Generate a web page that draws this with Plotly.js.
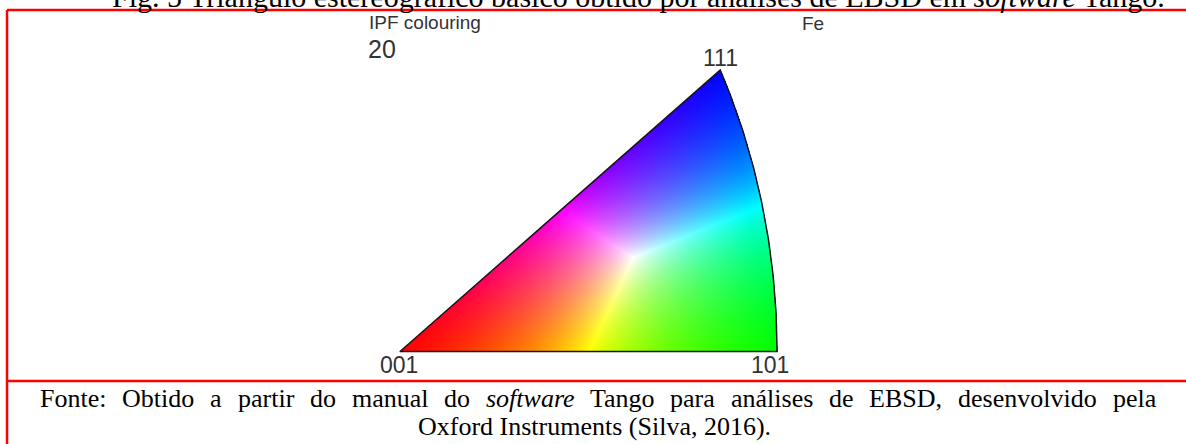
<!DOCTYPE html>
<html><head><meta charset="utf-8">
<script src="https://cdn.plot.ly/plotly-3.0.1.min.js"></script>
<style>html,body{margin:0;padding:0;background:#fff;overflow:hidden}</style>
</head><body><div id="chart" style="width:1186px;height:444px"></div>
<script>
// ---- data ----
const poleLabels = ['001', '101', '111'];
const poleDirections = [[0, 0, 1], [1, 0, 1], [1, 1, 1]];
const poleColours = [[255, 0, 0], [0, 255, 0], [0, 0, 255]];
const headerLabels = ['IPF colouring', '20', 'Fe'];
const captionTop = 'Fig. 5 Triângulo estereográfico básico obtido por análises de EBSD em <i>software</i> Tango.';
const sourceLines = ['Fonte: Obtido a partir do manual do <i>software</i> Tango para análises de EBSD, desenvolvido pela',
                     'Oxford Instruments (Silva, 2016).'];

// ---- geometry helpers (equal-area projection) ----
function project(d) {
  const n = Math.hypot(d[0], d[1], d[2]);
  const x = d[0] / n, y = d[1] / n, z = d[2] / n;
  const th = Math.acos(Math.min(1, z)), r = 2 * Math.sin(th / 2), ph = Math.atan2(y, x);
  return [r * Math.cos(ph), r * Math.sin(ph)];
}
function unproject(X, Y) {
  const r = Math.hypot(X, Y), th = 2 * Math.asin(Math.min(1, r / 2)), ph = Math.atan2(Y, X);
  return [Math.sin(th) * Math.cos(ph), Math.sin(th) * Math.sin(ph), Math.cos(th)];
}
const P = poleDirections.map(project);

// boundary of the standard triangle (great circles between poles)
const bx = [], by = [];
const N = 80;
function addArc(a, b) {
  for (let i = 0; i <= N; i++) {
    const t = i / N;
    const d = [a[0] + (b[0] - a[0]) * t, a[1] + (b[1] - a[1]) * t, a[2] + (b[2] - a[2]) * t];
    const p = project(d); bx.push(p[0]); by.push(p[1]);
  }
}
addArc(poleDirections[0], poleDirections[1]);
addArc(poleDirections[1], poleDirections[2]);
addArc(poleDirections[2], poleDirections[0]);

// ---- page layout (pixels) ----
const W = 1186, H = 444;
const ox = 400, oy = 351.5, sx = 492.6, sy = 433;
const xRange = [-ox / sx, (W - ox) / sx];
const yRange = [-(H - oy) / sy, oy / sy];
const dx = 1 / sx, dy = 1 / sy;

// ---- IPF colour key image ----
const xmax = Math.max(...bx), ymax = Math.max(...by);
const nx = Math.ceil(xmax / dx) + 2, ny = Math.ceil(ymax / dy) + 2;
const A = P[0], B = P[1], C = P[2];
const det = (B[0] - A[0]) * (C[1] - A[1]) - (C[0] - A[0]) * (B[1] - A[1]);
const z = [];
for (let j = 0; j < ny; j++) {
  const row = [];
  const Y = j * dy;
  for (let i = 0; i < nx; i++) {
    const X = i * dx;
    const d = unproject(X, Y);
    const e = 1e-9;
    const inside = d[1] >= -e && d[0] >= d[1] - e && d[2] >= d[0] - e;
    if (!inside) { row.push([255, 255, 255, 0]); continue; }
    let wb = ((X - A[0]) * (C[1] - A[1]) - (C[0] - A[0]) * (Y - A[1])) / det;
    let wc = ((B[0] - A[0]) * (Y - A[1]) - (X - A[0]) * (B[1] - A[1])) / det;
    let wa = 1 - wb - wc;
    const w = [Math.max(0, wa), Math.max(0, wb), Math.max(0, wc)];
    const c = [0, 1, 2].map(k => w[0] * poleColours[0][k] + w[1] * poleColours[1][k] + w[2] * poleColours[2][k]);
    const m = Math.max(...c) || 1;
    row.push([Math.round(c[0] * 255 / m), Math.round(c[1] * 255 / m), Math.round(c[2] * 255 / m), 1]);
  }
  z.push(row);
}

const traces = [
  { type: 'image', z: z, x0: 0, y0: 0, dx: dx, dy: dy, colormodel: 'rgba', hoverinfo: 'skip' },
  { type: 'scatter', mode: 'lines', x: bx, y: by, line: { color: '#151515', width: 1.5 }, hoverinfo: 'skip' }
];

// ---- annotations ----
const px = v => v / W, py = v => 1 - v / H;
const labelFont = { family: 'Liberation Sans, Arial, sans-serif', color: '#333333' };
const serifFamily = 'Liberation Serif, Times New Roman, serif';
const serif = { family: serifFamily, color: '#000', size: 26 };
const annotations = [
  { text: headerLabels[0], xref: 'paper', yref: 'paper', x: px(367), y: py(22), xanchor: 'left', yanchor: 'middle', showarrow: false, font: Object.assign({ size: 19 }, labelFont) },
  { text: headerLabels[1], xref: 'paper', yref: 'paper', x: px(366), y: py(49), xanchor: 'left', yanchor: 'middle', showarrow: false, font: Object.assign({ size: 25 }, labelFont) },
  { text: headerLabels[2], xref: 'paper', yref: 'paper', x: px(800), y: py(23), xanchor: 'left', yanchor: 'middle', showarrow: false, font: Object.assign({ size: 19 }, labelFont) },
  { text: poleLabels[0], x: P[0][0], y: P[0][1], xshift: -1.5, yshift: -13, xanchor: 'center', yanchor: 'middle', showarrow: false, font: Object.assign({ size: 23 }, labelFont) },
  { text: poleLabels[1], x: P[1][0], y: P[1][1], xshift: -7, yshift: -13, xanchor: 'center', yanchor: 'middle', showarrow: false, font: Object.assign({ size: 23 }, labelFont) },
  { text: poleLabels[2], x: P[2][0], y: P[2][1], xshift: 0, yshift: 12, xanchor: 'center', yanchor: 'middle', showarrow: false, font: Object.assign({ size: 23 }, labelFont) },
  { text: captionTop, xref: 'paper', yref: 'paper', x: px(1167), y: py(-3), xanchor: 'right', yanchor: 'middle', showarrow: false, font: { family: serifFamily, color: '#000', size: 30 } },
  { text: sourceLines[1], xref: 'paper', yref: 'paper', x: px(594), y: py(426), xanchor: 'center', yanchor: 'middle', showarrow: false, font: serif }
];

// first source line is justified between the cell's left and right text edges
(function () {
  const left = 39, right = 1155;
  const ctx = document.createElement('canvas').getContext('2d');
  const words = sourceLines[0].split(' ');
  const widths = words.map(wd => {
    const it = /<i>/.test(wd);
    ctx.font = (it ? 'italic ' : '') + serif.size + 'px "Liberation Serif"';
    return ctx.measureText(wd.replace(/<\/?i>/g, '')).width;
  });
  const total = widths.reduce((a, b) => a + b, 0);
  const gap = (right - left - total) / (words.length - 1);
  let pos = left;
  words.forEach((wd, k) => {
    annotations.push({ text: wd, xref: 'paper', yref: 'paper', x: px(pos - 1), y: py(398), xanchor: 'left', yanchor: 'middle', showarrow: false, font: serif });
    pos += widths[k] + gap;
  });
})();

// ---- frame lines ----
const red = { color: '#ff0000', width: 2.5 };
const shapes = [
  { type: 'line', xref: 'paper', yref: 'paper', x0: px(7), x1: px(W + 5), y0: py(10), y1: py(10), line: red },
  { type: 'line', xref: 'paper', yref: 'paper', x0: px(7), x1: px(W + 5), y0: py(381), y1: py(381), line: red },
  { type: 'line', xref: 'paper', yref: 'paper', x0: px(7), x1: px(7), y0: py(10), y1: py(H + 5), line: red }
];

const layout = {
  width: W, height: H,
  margin: { l: 0, r: 0, t: 0, b: 0, pad: 0 },
  paper_bgcolor: '#ffffff', plot_bgcolor: '#ffffff',
  showlegend: false,
  xaxis: { range: xRange, visible: false, fixedrange: true },
  yaxis: { range: yRange, visible: false, fixedrange: true, scaleanchor: false, autorange: false },
  annotations: annotations,
  shapes: shapes
};
Plotly.newPlot('chart', traces, layout, { staticPlot: true, displayModeBar: false });
</script>
</body></html>
